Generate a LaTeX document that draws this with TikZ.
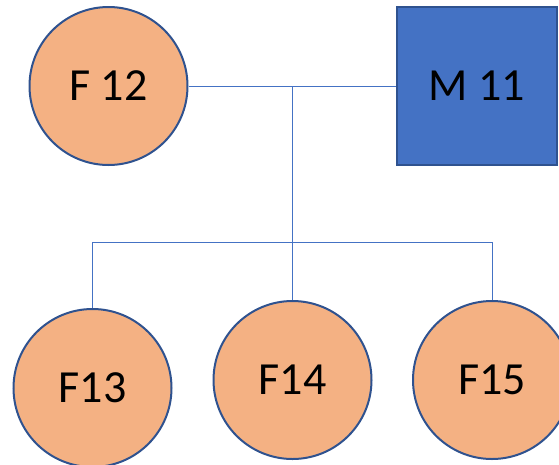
\documentclass[tikz,border=0pt]{standalone}
\usepackage{fontspec}
\setmainfont{Carlito}
\definecolor{femfill}{HTML}{F4B183}
\definecolor{malefill}{HTML}{4472C4}
\definecolor{edgeblue}{HTML}{2F528F}
\definecolor{linkblue}{HTML}{4472C4}
\tikzset{
  female/.style={draw=edgeblue, line width=2pt, circle, fill=femfill, minimum size=158pt, inner sep=0pt, font=\fontsize{46}{50}\selectfont},
  male/.style={draw=edgeblue, line width=2pt, rectangle, fill=malefill, minimum width=160pt, minimum height=158pt, inner sep=0pt, font=\fontsize{46}{50}\selectfont},
  link/.style={draw=linkblue, line width=1pt}
}
\begin{document}
\begin{tikzpicture}[x=1pt, y=-1pt]
				\useasboundingbox (0,0) rectangle (559,464);

				% Parents
				\node[female] (f12) at (108.5,86) {F 12};
				\node[male] (m11) at (477,86) {M 11};
				\draw[link] (f12) -- (m11);

				% Descent line
				\coordinate (mid) at (292.5,86);
				\coordinate (bar) at (292.5,242);
				\draw[link] (mid) -- (bar);

				% Children
				\node[female] (f13) at (92.5,388) {F13};
				\node[female] (f14) at (292.5,380) {F14};
				\node[female] (f15) at (492,380) {F15};

				% Sibling bar
				\coordinate (barl) at (92.5,242);
				\coordinate (barr) at (492,242);
				\draw[link] (barl) -- (barr);
				\draw[link] (barl) -- (f13.north);
				\draw[link] (bar) -- (f14.north);
				\draw[link] (barr) -- (f15.north);
			\end{tikzpicture}
\end{document}
